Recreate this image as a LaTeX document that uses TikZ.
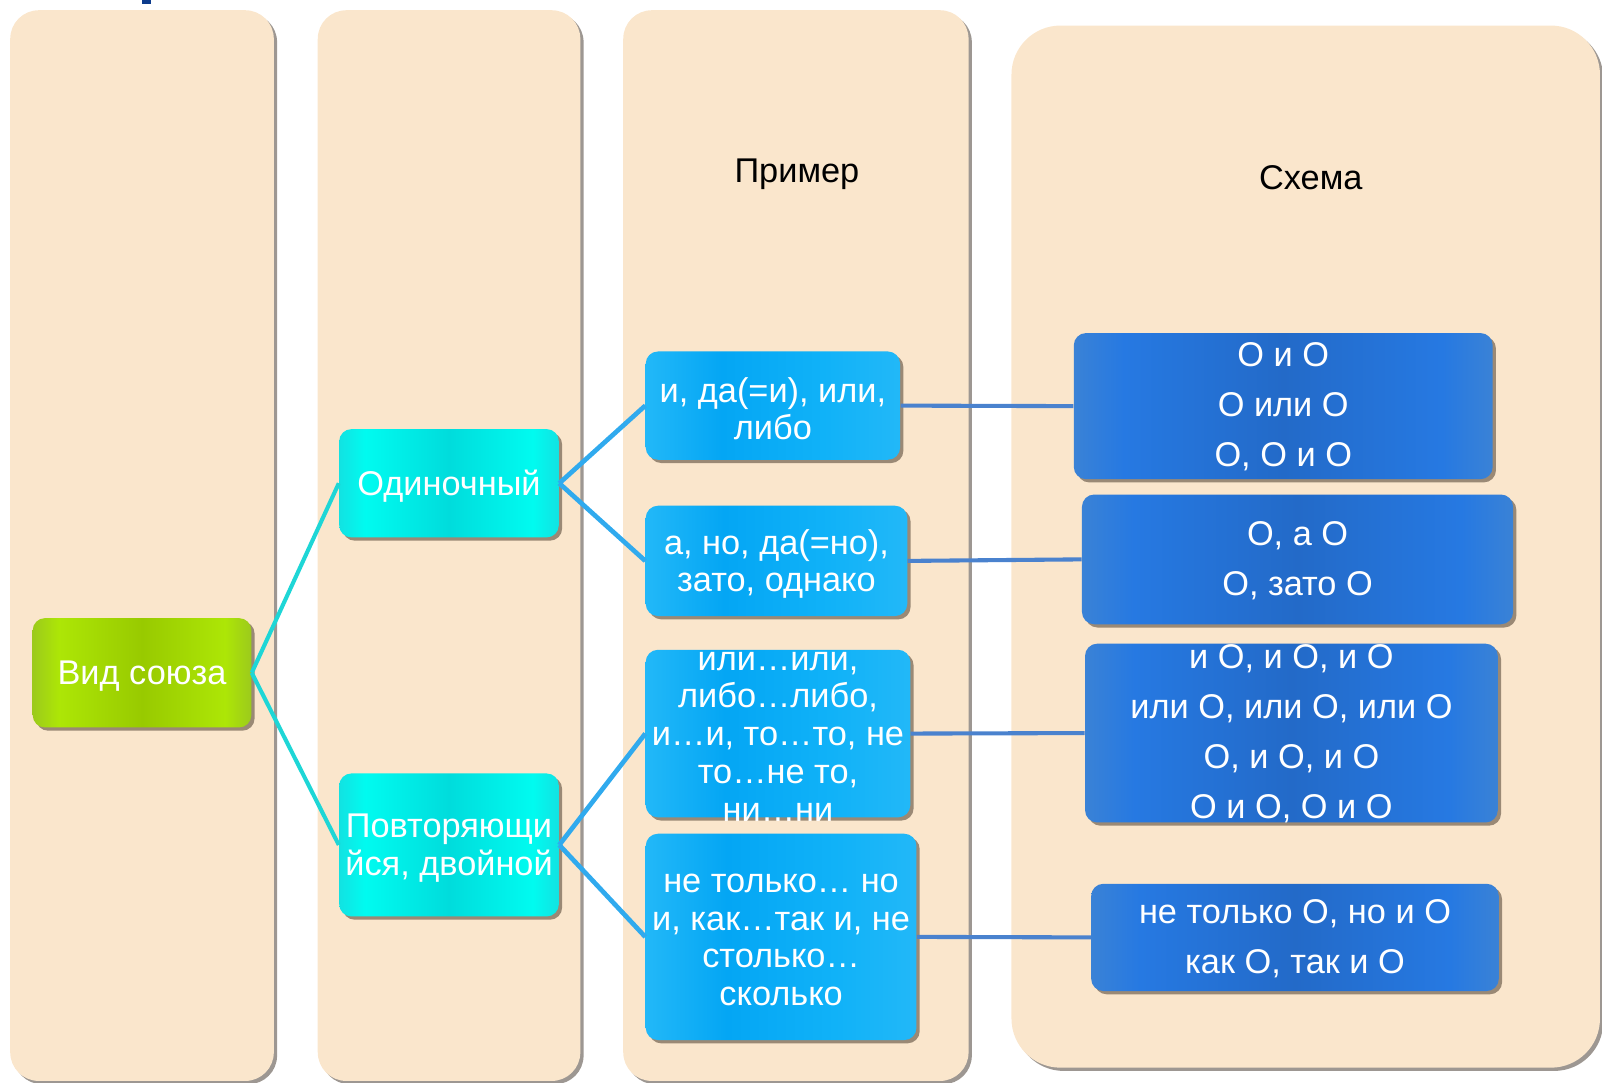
\documentclass[tikz,border=0pt]{standalone}
\usepackage{fontspec}
\setmainfont{Liberation Sans}
\usetikzlibrary{shadows}
\definecolor{panelc}{HTML}{FAE6CC}
\definecolor{gE}{HTML}{9CCA1C}
\definecolor{gB}{HTML}{ADE606}
\definecolor{gC}{HTML}{98CA00}
\definecolor{cE}{HTML}{12E2E2}
\definecolor{cB}{HTML}{00FBF0}
\definecolor{cC}{HTML}{00DCDC}
\definecolor{kE}{HTML}{22B8F8}
\definecolor{kB}{HTML}{10B2F8}
\definecolor{kC}{HTML}{04A6F4}
\definecolor{bE}{HTML}{3A82D6}
\definecolor{bB}{HTML}{2679E2}
\definecolor{bC}{HTML}{236AC8}
\definecolor{lineA}{HTML}{1ED6D6}
\definecolor{lineB}{HTML}{30AAEE}
\definecolor{lineC}{HTML}{4A82CE}
\definecolor{markc}{HTML}{0D3B8C}
\pgfdeclarehorizontalshading{greensh}{100bp}{color(0bp)=(gE); color(25bp)=(gE); color(31bp)=(gB); color(50bp)=(gC); color(69bp)=(gB); color(75bp)=(gE); color(100bp)=(gE)}
\pgfdeclarehorizontalshading{cyansh}{100bp}{color(0bp)=(cE); color(25bp)=(cE); color(31bp)=(cB); color(50bp)=(cC); color(69bp)=(cB); color(75bp)=(cE); color(100bp)=(cE)}
\pgfdeclarehorizontalshading{skysh}{100bp}{color(0bp)=(kE); color(25bp)=(kE); color(40bp)=(kC); color(60bp)=(kB); color(75bp)=(kE); color(100bp)=(kE)}
\pgfdeclarehorizontalshading{bluesh}{100bp}{color(0bp)=(bE); color(25bp)=(bE); color(31bp)=(bB); color(50bp)=(bC); color(69bp)=(bB); color(75bp)=(bE); color(100bp)=(bE)}
\tikzset{
  shad/.style={drop shadow={shadow xshift=1.6pt, shadow yshift=-1.6pt, fill=black!80!brown, opacity=0.45}},
  panel/.style={fill=panelc, shad, rounded corners=14pt},
  boxbase/.style={shad, rounded corners=6pt, inner sep=0pt},
  gbox/.style={boxbase, shading=greensh},
  cbox/.style={boxbase, shading=cyansh},
  kbox/.style={boxbase, shading=skysh},
  bbox/.style={boxbase, shading=bluesh},
  txt/.style={inner sep=0pt, text=white, align=center, yshift=-1.5pt, font=\fontsize{16.8}{18.5}\selectfont},
  btxt/.style={inner sep=0pt, text=white, align=center, yshift=-0.5pt, font=\fontsize{16.8}{24.5}\selectfont},
  head/.style={inner sep=0pt, text=black, yshift=-1.5pt, font=\fontsize{16.8}{20}\selectfont},
  conA/.style={draw=lineA, line width=2pt},
  conB/.style={draw=lineB, line width=2.3pt},
  conC/.style={draw=lineC, line width=2pt},
}
\begin{document}
\begin{tikzpicture}[x=0.5pt, y=-0.5pt]
\useasboundingbox (0,0) rectangle (1568,1060);
% panels
\path[panel] (10,10) rectangle (268,1058);
\path[panel] (311,10) rectangle (568,1058);
\path[panel] (610,10) rectangle (948,1058);
\path[panel, rounded corners=24pt] (990,25) rectangle (1566,1045);
\fill[markc] (139,0) rectangle (148,4);
% headers
\node[head] (hprim) at (780,168) {Пример};
\node[head] (hsch) at (1283,171) {Схема};
% boxes
\node[gbox, minimum width=107pt, minimum height=53.5pt] (vid) at (139,658.5) {};
\node[txt] (vidt) at (vid.center) {Вид союза};
\node[cbox, minimum width=107.5pt, minimum height=53pt] (odin) at (439.5,473) {};
\node[txt] (odint) at (odin.center) {Одиночный};
\node[cbox, minimum width=107.5pt, minimum height=70pt] (povt) at (439.5,827) {};
\node[txt] (povtt) at (povt.center) {Повторяющи\\йся, двойной};
\node[kbox, minimum width=124.5pt, minimum height=53pt] (e1) at (756.5,397) {};
\node[txt] (e1t) at (e1.center) {и, да(=и), или,\\либо};
\node[kbox, minimum width=128pt, minimum height=54pt] (e2) at (760,549) {};
\node[txt] (e2t) at (e2.center) {а, но, да(=но),\\зато, однако};
\node[kbox, minimum width=129.5pt, minimum height=82pt] (e3) at (761.5,718) {};
\node[txt] (e3t) at (e3.center) {или…или,\\либо…либо,\\и…и, то…то, не\\то…не то,\\ни…ни};
\node[kbox, minimum width=132.5pt, minimum height=101pt] (e4) at (764.5,917) {};
\node[txt] (e4t) at (e4.center) {не только… но\\и, как…так и, не\\столько…\\сколько};
\node[bbox, minimum width=205pt, minimum height=71.5pt] (s1) at (1256,397.5) {};
\node[btxt] (s1t) at (s1.center) {О и О\\О или О\\О, О и О};
\node[bbox, minimum width=211pt, minimum height=63.5pt] (s2) at (1270,547.5) {};
\node[btxt] (s2t) at (s2.center) {О, а О\\О, зато О};
\node[bbox, minimum width=202pt, minimum height=87.5pt] (s3) at (1264,717.5) {};
\node[btxt] (s3t) at (s3.center) {и О, и О, и О\\или О, или О, или О\\О, и О, и О\\О и О, О и О};
\node[bbox, minimum width=199.5pt, minimum height=52.5pt] (s4) at (1267.5,917.5) {};
\node[btxt] (s4t) at (s4.center) {не только О, но и О\\как О, так и О};
% connectors
\draw[conA] (vid.east) -- (odin.west);
\draw[conA] (vid.east) -- (povt.west);
\draw[conB] (odin.east) -- (e1.west);
\draw[conB] (odin.east) -- (e2.west);
\draw[conB] (povt.east) -- (e3.west);
\draw[conB] (povt.east) -- (e4.west);
\draw[conC] (e1.east) -- (s1.west);
\draw[conC] (e2.east) -- (s2.west);
\draw[conC] (e3.east) -- (s3.west);
\draw[conC] (e4.east) -- (s4.west);
\end{tikzpicture}
\end{document}
